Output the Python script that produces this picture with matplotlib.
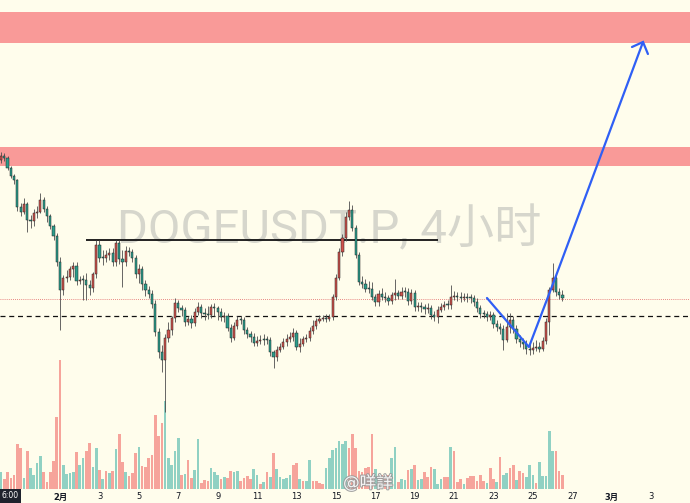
import matplotlib
matplotlib.use("Agg")
import matplotlib.pyplot as plt
import matplotlib.patheffects as pe
import numpy as np

plt.rcParams['font.family'] = ['DejaVu Sans', 'Noto Sans CJK SC']

W, H, DPI = 690, 503, 100

# ---------------- data: DOGEUSDT.P 4H candles, index i -> day i/6 after 29 Jan 00:00
first_open = 0.340
close = [0.344, 0.342, 0.332, 0.324, 0.320, 0.293, 0.288, 0.296, 0.280, 0.279,
         0.287, 0.288, 0.300, 0.291, 0.284, 0.274, 0.264, 0.238, 0.210, 0.222,
         0.223, 0.231, 0.234, 0.219, 0.220, 0.220, 0.215, 0.212, 0.226, 0.255,
         0.242, 0.242, 0.245, 0.247, 0.238, 0.257, 0.241, 0.238, 0.249, 0.248,
         0.242, 0.226, 0.231, 0.216, 0.210, 0.206, 0.196, 0.168, 0.148, 0.140,
         0.162, 0.170, 0.182, 0.197, 0.192, 0.190, 0.178, 0.181, 0.177, 0.188,
         0.193, 0.187, 0.186, 0.185, 0.193, 0.192, 0.188, 0.183, 0.184, 0.172,
         0.162, 0.174, 0.180, 0.180, 0.170, 0.166, 0.163, 0.157, 0.159, 0.160,
         0.160, 0.160, 0.148, 0.143, 0.150, 0.153, 0.158, 0.161, 0.163, 0.167,
         0.153, 0.156, 0.161, 0.162, 0.169, 0.174, 0.179, 0.181, 0.182, 0.181,
         0.183, 0.203, 0.222, 0.248, 0.262, 0.283, 0.290, 0.272, 0.245, 0.218,
         0.216, 0.211, 0.211, 0.203, 0.198, 0.206, 0.203, 0.202, 0.199, 0.205,
         0.207, 0.204, 0.208, 0.208, 0.199, 0.207, 0.193, 0.194, 0.193, 0.191,
         0.192, 0.185, 0.183, 0.190, 0.193, 0.195, 0.195, 0.203, 0.204, 0.203,
         0.202, 0.203, 0.202, 0.202, 0.198, 0.192, 0.186, 0.186, 0.183, 0.185,
         0.176, 0.173, 0.171, 0.160, 0.173, 0.180, 0.171, 0.161, 0.158, 0.156,
         0.151, 0.150, 0.152, 0.153, 0.151, 0.159, 0.178, 0.210, 0.222, 0.208,
         0.205, 0.202]
high = [0.348, 0.347, 0.344, 0.334, 0.326, 0.321, 0.297, 0.302, 0.298, 0.285,
        0.291, 0.294, 0.307, 0.303, 0.294, 0.286, 0.276, 0.267, 0.243, 0.225,
        0.230, 0.234, 0.238, 0.238, 0.224, 0.225, 0.227, 0.220, 0.228, 0.260,
        0.260, 0.250, 0.250, 0.252, 0.252, 0.260, 0.260, 0.250, 0.254, 0.253,
        0.251, 0.245, 0.236, 0.234, 0.220, 0.214, 0.210, 0.200, 0.172, 0.155,
        0.166, 0.178, 0.184, 0.202, 0.200, 0.195, 0.193, 0.184, 0.185, 0.192,
        0.198, 0.196, 0.192, 0.194, 0.196, 0.197, 0.194, 0.192, 0.188, 0.187,
        0.176, 0.178, 0.184, 0.184, 0.183, 0.173, 0.169, 0.167, 0.164, 0.165,
        0.166, 0.164, 0.163, 0.150, 0.154, 0.157, 0.162, 0.166, 0.168, 0.172,
        0.170, 0.162, 0.164, 0.166, 0.173, 0.180, 0.182, 0.185, 0.185, 0.186,
        0.186, 0.206, 0.226, 0.252, 0.266, 0.288, 0.299, 0.295, 0.275, 0.248,
        0.224, 0.221, 0.219, 0.218, 0.206, 0.210, 0.212, 0.208, 0.205, 0.208,
        0.221, 0.210, 0.213, 0.213, 0.212, 0.211, 0.210, 0.198, 0.198, 0.196,
        0.197, 0.195, 0.189, 0.194, 0.197, 0.199, 0.200, 0.215, 0.209, 0.208,
        0.208, 0.207, 0.207, 0.206, 0.205, 0.202, 0.195, 0.190, 0.189, 0.189,
        0.188, 0.180, 0.177, 0.175, 0.187, 0.187, 0.184, 0.175, 0.165, 0.162,
        0.160, 0.156, 0.158, 0.160, 0.158, 0.163, 0.182, 0.213, 0.237, 0.226,
        0.212, 0.210]
low = [0.337, 0.339, 0.330, 0.322, 0.316, 0.289, 0.284, 0.286, 0.268, 0.272,
       0.274, 0.282, 0.287, 0.288, 0.278, 0.271, 0.260, 0.234, 0.170, 0.205,
       0.218, 0.220, 0.223, 0.215, 0.216, 0.200, 0.200, 0.205, 0.208, 0.222,
       0.238, 0.235, 0.238, 0.240, 0.234, 0.234, 0.236, 0.213, 0.234, 0.244,
       0.238, 0.222, 0.217, 0.210, 0.204, 0.202, 0.192, 0.164, 0.142, 0.128,
       0.088, 0.158, 0.165, 0.178, 0.188, 0.184, 0.174, 0.175, 0.172, 0.174,
       0.185, 0.182, 0.180, 0.181, 0.182, 0.184, 0.180, 0.179, 0.178, 0.169,
       0.158, 0.160, 0.171, 0.176, 0.166, 0.162, 0.158, 0.154, 0.154, 0.156,
       0.155, 0.156, 0.144, 0.132, 0.139, 0.148, 0.151, 0.154, 0.158, 0.159,
       0.150, 0.148, 0.154, 0.158, 0.159, 0.166, 0.171, 0.177, 0.179, 0.178,
       0.179, 0.180, 0.200, 0.220, 0.244, 0.259, 0.280, 0.269, 0.242, 0.215,
       0.212, 0.208, 0.207, 0.200, 0.194, 0.194, 0.200, 0.198, 0.195, 0.196,
       0.200, 0.201, 0.201, 0.203, 0.195, 0.196, 0.189, 0.189, 0.188, 0.186,
       0.187, 0.181, 0.179, 0.177, 0.188, 0.190, 0.191, 0.191, 0.200, 0.199,
       0.198, 0.199, 0.198, 0.197, 0.194, 0.188, 0.182, 0.182, 0.179, 0.180,
       0.172, 0.169, 0.166, 0.150, 0.158, 0.167, 0.167, 0.157, 0.153, 0.151,
       0.146, 0.145, 0.146, 0.149, 0.148, 0.149, 0.156, 0.165, 0.208, 0.204,
       0.201, 0.199]
volume = [17, 10, 17, 11, 14, 45, 41, 11, 38, 21,
          14, 26, 33, 17, 7, 17, 28, 72, 129, 24,
          15, 16, 17, 37, 24, 31, 38, 46, 22, 41,
          19, 10, 18, 16, 18, 40, 55, 27, 17, 13,
          16, 36, 42, 23, 22, 31, 34, 74, 53, 66,
          88, 31, 24, 38, 51, 14, 15, 29, 11, 19,
          50, 6, 9, 8, 21, 17, 14, 10, 12, 11,
          18, 17, 18, 8, 11, 13, 10, 20, 14, 5,
          7, 17, 12, 36, 20, 12, 10, 11, 14, 24,
          26, 10, 8, 8, 29, 8, 8, 6, 5, 21,
          31, 39, 41, 48, 45, 48, 41, 55, 41, 18,
          17, 21, 22, 55, 20, 13, 14, 13, 14, 31,
          42, 7, 10, 9, 19, 20, 24, 9, 10, 17,
          12, 22, 20, 5, 10, 12, 12, 42, 38, 7,
          10, 5, 11, 13, 13, 8, 14, 8, 6, 21,
          10, 7, 32, 14, 16, 21, 24, 9, 18, 16,
          12, 24, 14, 6, 27, 13, 13, 58, 38, 38,
          18, 14]
vol_dir = ("grrrrrrgrg" "gggrrrrrrg" "gggrggrrgg" "rgrgrgrrgr" "rrgrrrrrrr"
           "gggggrgrrg" "grrrgggrgr" "rggrrrrggr" "grgrgggggr" "rgrggrrrrg"
           "gggg" "g"
           "grrrrrrrrg" "grrrggrggr" "grggrrrggg" "rrgrrrgrrr" "rrrgrrgrgg"
           "rrgrrgggrg" "ggggrrr")

zones = [(0.457, 0.488), (0.334, 0.353)]
resistance_price, resistance_from, resistance_to = 0.260, 4.32, 22.18
dashed_price = 0.184
last_price = 0.201
path_days = [24.67, 26.80, 28.17, 32.59]
path_price = [0.202, 0.153, 0.224, 0.458]
arrow_barb_days = [32.03, 32.59, 32.84]
arrow_barb_price = [0.453, 0.458, 0.446]
tick_days = [3, 5, 7, 9, 11, 13, 15, 17, 19, 21, 23, 25, 27, 29, 31, 33]
tick_labels = ['2月', '3', '5', '7', '9', '11', '13', '15', '17', '19', '21',
               '23', '25', '27', '3月', '3']

# ---------------- styling
BG = '#fffdec'
UP, DOWN = '#2a9d8c', '#d0524c'
VUP, VDOWN = '#90d1c3', '#f6a49b'
ZONE = '#f99a98'

fig = plt.figure(figsize=(W / DPI, H / DPI), dpi=DPI, facecolor=BG)
rect = [0, 14 / H, 1, 489 / H]
x0, x1 = -0.05, -0.05 + W / 19.7

axv = fig.add_axes(rect, facecolor=BG)
ax = fig.add_axes(rect, sharex=axv)
ax.patch.set_alpha(0)

n = len(close)
days = np.arange(n) / 6.0
opens = np.array([first_open] + close[:-1])
closes = np.array(close)
highs, lows = np.array(high), np.array(low)
up = closes <= opens

# volume
vcols = [VUP if d == 'g' else VDOWN for d in vol_dir]
axv.bar(days, volume, width=0.135, color=vcols, linewidth=0)
axv.set_ylim(0, 489)
axv.set_xlim(x0, x1)

# zones and levels
for lo_, hi_ in zones:
    ax.axhspan(lo_, hi_, color=ZONE, lw=0, zorder=1)
ax.hlines(resistance_price, resistance_from, resistance_to, color='#111111', lw=1.3, zorder=4)
ax.axhline(dashed_price, color='#111111', lw=0.9, ls=(0, (4, 3)), zorder=4)
ax.axhline(last_price, color='#e06060', lw=0.6, ls=(0, (1, 1.5)), zorder=2)

# watermark
ax.text(117 / W, (489 - 243) / 489, 'DOGEUSDT.P, 4小时', transform=ax.transAxes,
        fontsize=34, color='#d6d6cc', ha='left', va='baseline',
        family=['Roboto', 'Noto Sans CJK SC'], zorder=0)

# candles
ax.vlines(days, lows, highs, color='#4d4d4d', lw=0.6, zorder=5)
body_lo = np.minimum(opens, closes)
body_h = np.maximum(np.abs(closes - opens), 0.0012)
ax.bar(days, body_h, bottom=body_lo, width=0.11,
       color=[UP if u else DOWN for u in up], edgecolor='#222222', linewidth=0.35, zorder=6)

# blue drawing
ax.plot(path_days, path_price, color='#2f5ff5', lw=1.6, zorder=7, solid_capstyle='round')
ax.plot(arrow_barb_days, arrow_barb_price, color='#2f5ff5', lw=1.6, zorder=7,
        solid_capstyle='round', solid_joinstyle='miter')

ax.set_xlim(x0, x1)
ax.set_ylim(0.5 - 489 / 1000, 0.5)
for a in (ax, axv):
    for s in a.spines.values():
        s.set_visible(False)
    a.set_yticks([])
axv.tick_params(axis='x', length=0, labelbottom=False)
ax.set_xticks(tick_days)
ax.set_xticklabels(tick_labels)
ax.tick_params(axis='x', length=0, pad=2.5, labelsize=6, colors='#131722')
for lbl in ax.get_xticklabels():
    if '月' in lbl.get_text():
        lbl.set_fontweight('bold')

# crosshair time label (bottom left) and weibo watermark
fig.text(1 / W, 1 - 496 / H, '6:00', fontsize=5.5, color='white', ha='left', va='center',
         bbox=dict(boxstyle='square,pad=0.35', fc='#1e222d', ec='none'))
fig.text(343 / W, 1 - 483 / H, '@咩詳', fontsize=12, color='white', ha='left', va='center',
         alpha=0.9, path_effects=[pe.withStroke(linewidth=1.5, foreground='#9a9a9a')])

fig.savefig('out.png', dpi=DPI, facecolor=BG)
